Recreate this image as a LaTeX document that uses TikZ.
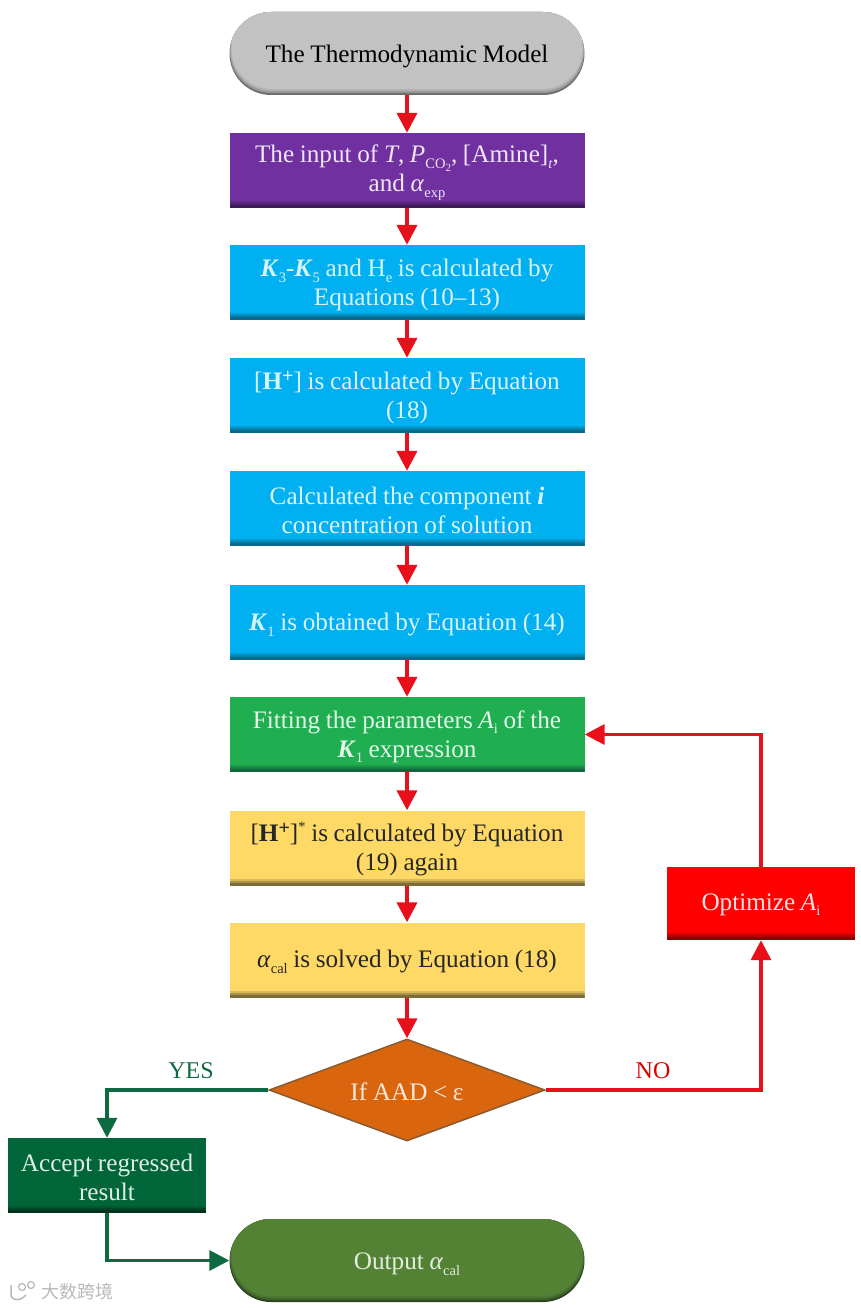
\documentclass[tikz,border=0pt]{standalone}
\usepackage{fontspec}
\setmainfont[WordSpace=0.9]{Liberation Serif}
\newfontfamily\cjkwm{Noto Sans CJK SC}
\usetikzlibrary{arrows.meta,shapes.geometric,shapes.misc,calc}
\definecolor{cgray}{HTML}{C2C2C2}\definecolor{dgray}{HTML}{6E6E6E}
\definecolor{cpurple}{HTML}{7030A0}\definecolor{dpurple}{HTML}{3D1A58}
\definecolor{cblue}{HTML}{00B0F0}\definecolor{dblue}{HTML}{0A6A8C}
\definecolor{cgreen}{HTML}{1FAF50}\definecolor{dgreen}{HTML}{10683A}
\definecolor{cyellow}{HTML}{FFD966}\definecolor{dyellow}{HTML}{7D6C3A}
\definecolor{cred}{HTML}{FF0000}\definecolor{dred}{HTML}{8A0000}
\definecolor{cforest}{HTML}{00663A}\definecolor{dforest}{HTML}{00331C}
\definecolor{colive}{HTML}{548235}\definecolor{dolive}{HTML}{2C4520}
\definecolor{corange}{HTML}{D9660F}\definecolor{dorange}{HTML}{8A5A30}
\definecolor{arrowred}{HTML}{E8101A}\definecolor{arrowgreen}{HTML}{0E6A40}
\newcommand{\sbs}[1]{\raisebox{-0.22em}{\fontsize{14.5}{14.5}\selectfont #1}}
\newcommand{\sps}[1]{\raisebox{0.42em}{\fontsize{14.5}{14.5}\selectfont #1}}
\newcommand{\plusup}{\raisebox{0.3em}{\fontsize{20}{20}\selectfont +}}
\newcommand{\ssb}[1]{\raisebox{-0.2em}{\fontsize{11}{11}\selectfont #1}}
\newcommand{\lift}[1]{\rule{0pt}{#1pt}}
\tikzset{
  x=1pt,y=-1pt,
  base/.style={inner sep=0pt,align=center,font=\fontsize{25.2}{29}\selectfont},
  flowbox/.style n args={3}{base,rectangle,fill=#1,text=#3,
    minimum width=355pt,minimum height=75pt,
    path picture={
      \fill[#1!70!#2] ($(path picture bounding box.south west)+(0,-7)$) rectangle (path picture bounding box.south east);
      \fill[#1!35!#2] ($(path picture bounding box.south west)+(0,-5)$) rectangle (path picture bounding box.south east);
      \fill[#2] ($(path picture bounding box.south west)+(0,-3)$) rectangle (path picture bounding box.south east);}},
  termbox/.style n args={3}{base,rounded rectangle,rounded rectangle arc length=180,fill=#2,text=#3,
    minimum width=355pt,minimum height=83pt,
    path picture={
      \fill[#1!50!#2,rounded corners=41pt]
        ($(path picture bounding box.south west)+(0.5,-2)$) rectangle ($(path picture bounding box.north east)+(-0.5,-2)$);
      \fill[#1!80!#2,rounded corners=41pt]
        ($(path picture bounding box.south west)+(1,-4)$) rectangle ($(path picture bounding box.north east)+(-1,-4)$);
      \fill[#1,rounded corners=40pt]
        ($(path picture bounding box.south west)+(2,-6)$) rectangle ($(path picture bounding box.north east)+(-2,-6)$);}},
  flowarrow/.style={draw=arrowred,line width=4pt,-{Triangle[width=20pt,length=20pt]}},
  looparrow/.style={draw=arrowred,line width=3.5pt,-{Triangle[width=20pt,length=20pt]}},
  yesarrow/.style={draw=arrowgreen,line width=3.5pt,-{Triangle[width=20pt,length=20pt]}},
  branchlabel/.style={inner sep=0pt,font=\fontsize{24}{26}\selectfont}
}
\begin{document}
\begin{tikzpicture}
\useasboundingbox (0,0) rectangle (861,1308);
\node[termbox={cgray}{dgray}{black}] (start) at (407,53.5) {\lift{24}The Thermodynamic Model};
\node[flowbox={cpurple}{dpurple}{white!88!cpurple}] (input) at (407,170.5) {\lift{22}The input of \textit{T}, \textit{P}\sbs{CO\ssb{2}}, [Amine]\sbs{\textit{t}},\\and \textit{α}\sbs{exp}};
\node[flowbox={cblue}{dblue}{white!85!cblue}] (kcalc) at (407,282.5) {\lift{23}\textbf{\textit{K}}\sbs{3}-\textbf{\textit{K}}\sbs{5} and H\sbs{e} is calculated by\\Equations (10–13)};
\node[flowbox={cblue}{dblue}{white!85!cblue}] (hcalc) at (407,395.5) {\lift{23}[\textbf{H\plusup}] is calculated by Equation\\(18)};
\node[flowbox={cblue}{dblue}{white!85!cblue}] (comp) at (407,508.5) {\lift{22}Calculated the component \textbf{\textit{i}}\\concentration of solution};
\node[flowbox={cblue}{dblue}{white!85!cblue}] (kone) at (407,622.5) {\lift{22}\textbf{\textit{K}}\sbs{1} is obtained by Equation (14)};
\node[flowbox={cgreen}{dgreen}{white!88!cgreen}] (fit) at (407,734.5) {\lift{22}Fitting the parameters \textit{A}\sbs{i} of the\\\textbf{\textit{K}}\sbs{1} expression};
\node[flowbox={cyellow}{dyellow}{black!85}] (hagain) at (407,848) {\lift{22}[\textbf{H\plusup}]\sps{*} is calculated by Equation\\(19) again};
\node[flowbox={cyellow}{dyellow}{black!85}] (alpha) at (407,960) {\lift{21}\textit{α}\sbs{cal} is solved by Equation (18)};
\node[base,diamond,aspect=2.67,fill=corange,draw=dorange,line width=1.5pt,text=white!85!corange,minimum width=276pt,minimum height=102pt] (test) at (407,1090) {\lift{21}If AAD < ε};
\node[flowbox={cred}{dred}{white!88!cred},minimum width=188pt,minimum height=73pt] (opt) at (761,903.5) {\lift{19}Optimize \textit{A}\sbs{i}};
\node[flowbox={cforest}{dforest}{white!88!cforest},minimum width=198pt,minimum height=75pt] (accept) at (107,1175.5) {\lift{22}Accept regressed\\result};
\node[termbox={colive}{dolive}{white!85!colive}] (output) at (407,1260.5) {\lift{24}Output \textit{α}\sbs{cal}};
\foreach \a/\b in {start/input,input/kcalc,kcalc/hcalc,hcalc/comp,comp/kone,kone/fit,fit/hagain,hagain/alpha,alpha/test}
  \draw[flowarrow] (\a.south) -- (\b.north);
\draw[looparrow] (test.east) -| (opt.south);
\draw[looparrow] (opt.north) |- (fit.east);
\draw[yesarrow] (test.west) -| (accept.north);
\draw[yesarrow] (accept.south) |- (output.west);
\node[branchlabel,text=arrowgreen] (yes) at (191,1071) {YES};
\node[branchlabel,text=cred!85!black] (no) at (653,1071) {NO};
\node[inner sep=0pt,text=black!28,font=\cjkwm\fontsize{18}{18}\selectfont] (mark) at (77,1292) {大数跨境};
\draw[black!28,line width=1.5pt] (11,1285) -- (11,1296) .. controls (14,1302) and (22,1300) .. (26,1295);
\draw[black!28,line width=1.2pt] (22,1287) circle (3.5pt) (31,1285) circle (3.5pt);
\end{tikzpicture}
\end{document}
